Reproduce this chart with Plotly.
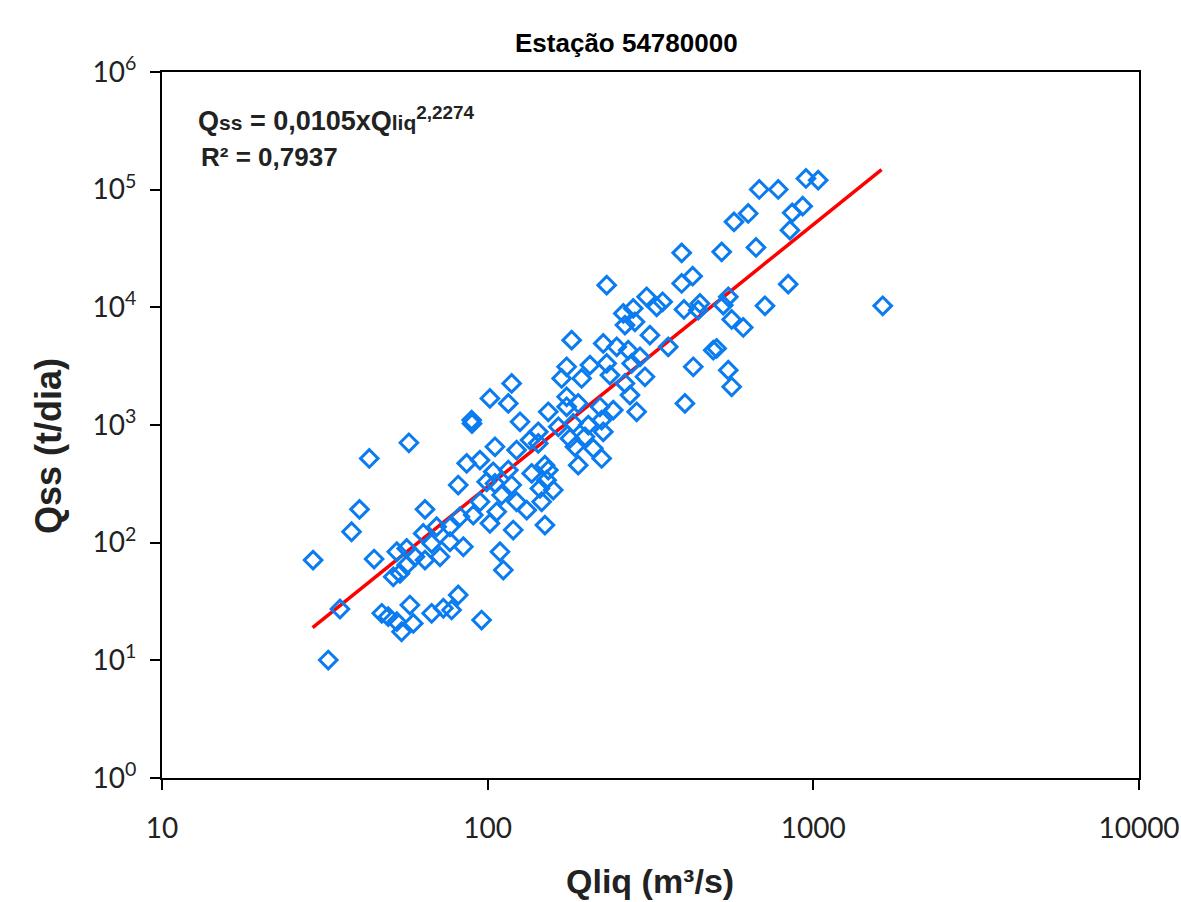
import plotly.graph_objects as go

# Observed pairs (Qliq in m3/s, Qss in t/dia)
qliq = [29.1, 32.4, 35.2, 38.2, 40.4, 43.3, 44.8, 47.3, 49.5, 51.3,
        52.6, 52.6, 53.8, 54.4, 56.4, 56.4, 57.3, 57.7, 59.1, 59.8,
        63.4, 64.2, 64.2, 67.3, 67.3, 69.7, 71.4, 73.1, 76.6, 76.6,
        77.5, 81.2, 81.2, 82.2, 84.2, 86.2, 90.3, 94.7, 94.7, 95.8,
        89.3, 89.5,
        99.3, 101.6, 101.6, 104, 105.3, 105.3, 106.6, 109.1, 110.4, 111.7,
        115.7, 115.7, 118.5, 118.5, 119.8, 122.7, 122.7,
        125.7, 131.8, 134.9, 136.5, 143, 143, 144.7, 146.5, 149.9, 149.9,
        151.7, 153.5, 153.5, 159, 164.8, 168.7, 174.8, 174.8, 178.9, 181.1,
        183.2, 185.4,
        189.7, 189.7, 194.3, 199, 203.7, 206.1, 211,
        223.9, 221.2, 226.4, 223.9, 226.4, 232, 232, 237.4,
        243, 249, 264, 270.2, 273.5, 276.8, 286.8, 293.6, 304.1, 315, 358.5, 174.8,
        260.9, 264, 279.9, 283.3, 307.7, 330.3, 344.5, 394.2, 394.2, 426,
        400.6, 443.2, 448.6, 492.8, 504.7, 427.9, 548.1, 561.4, 403.4, 523.1,
        529.1, 548.1, 561.4, 609.2, 570.6, 631, 666.6, 682.3, 780.3, 710.3,
        837.3, 847.7, 861.4, 927.4, 949.1, 1035, 1633]

qss = [71.1, 10.06, 27.3, 123.8, 191.9, 520, 72.6, 25.1, 23.5, 51.3,
       83.7, 21.3, 54.8, 17.5, 89.4, 64.5, 706, 29.5, 20.6, 75.9,
       119.9, 191.9, 71.1, 98.6, 25.1, 136.5, 75.9, 27.7, 101.8, 136.5,
       26.8, 35.9, 308.7, 166, 92.3, 472, 171.6, 503, 222.6, 22.0,
       1101, 1028,
       329, 1683, 145.9, 400, 653, 319, 183, 83.7, 254, 58.5,
       1526, 414, 2257, 308.7, 128, 612, 222.6,
       1065, 189.2, 744, 388, 875, 698, 289, 222.6, 141, 456,
       340, 414, 1295, 280, 965, 2488, 1737, 3123, 769, 5264,
       1032, 653,
       456, 1526, 2488, 794, 998, 3228, 633,
       520, 1427, 875, 1101, 4935, 3337, 15440, 2655,
       1338, 4617, 2257, 4328, 1795, 3337, 1295, 3797, 2568, 5804, 4617, 1427,
       8877, 7061, 9787, 7530, 12280, 10100, 11140, 29040, 15960, 18410,
       9598, 9467, 10790, 4328, 4474, 3123, 2926, 2112, 1526, 29610,
       10440, 12280, 7893, 6749, 53250, 62790, 32290, 100400, 100400, 10300,
       15740, 45290, 63530, 72400, 124500, 120400, 10300]

# Power-law trend line endpoints (Qss = 0,0105 x Qliq^2,2274)
trend_q = [29, 1620]
trend_qss = [19, 148000]

x_tickvals = [10, 100, 1000, 10000]
x_ticktext = ["10", "100", "1000", "10000"]
y_tickvals = [1, 10, 100, 1000, 10000, 100000, 1000000]
y_ticktext = ["10<sup>0</sup>", "10<sup>1</sup>", "10<sup>2</sup>", "10<sup>3</sup>",
              "10<sup>4</sup>", "10<sup>5</sup>", "10<sup>6</sup>"]

TICK_FONT = "Lato, sans-serif"
BOLD_FONT = "Liberation Sans, Arial, sans-serif"

fig = go.Figure()
fig.add_trace(go.Scatter(
    x=trend_q, y=trend_qss, mode="lines",
    line=dict(color="#FF0000", width=3.5),
    showlegend=False, hoverinfo="skip"))
fig.add_trace(go.Scatter(
    x=qliq, y=qss, mode="markers",
    marker=dict(symbol="diamond-open", size=13.5, color="#0A7CF0",
                line=dict(color="#0A7CF0", width=3)),
    showlegend=False))

axis_common = dict(showgrid=False, zeroline=False, showline=True, linecolor="black",
                   linewidth=2, mirror=True, ticks="outside", ticklen=10,
                   tickwidth=2, tickcolor="black", automargin=False)

fig.update_xaxes(type="log", range=[1, 4], tickvals=x_tickvals, ticktext=x_ticktext,
                 tickfont=dict(family=TICK_FONT, size=28, color="#222"),
                 ticklabelstandoff=14, **axis_common)
fig.update_yaxes(type="log", range=[0, 6], tickvals=y_tickvals, ticktext=y_ticktext,
                 tickfont=dict(family=TICK_FONT, size=28, color="#222"),
                 ticklabelstandoff=8, **axis_common)

fig.update_layout(
    width=1181, height=902,
    margin=dict(l=162, r=42, t=72, b=124, autoexpand=False),
    paper_bgcolor="white", plot_bgcolor="white",
)

fig.add_annotation(
    xref="paper", yref="paper", x=(626 - 162) / 977, y=(778 - 43) / 706,
    xanchor="center", yanchor="middle",
    text="<b>Estação 54780000</b>", showarrow=False,
    font=dict(family=BOLD_FONT, size=26, color="black"))

fig.add_annotation(
    xref="paper", yref="paper", x=(196 - 162) / 977, y=(778 - 138) / 706,
    xanchor="left", yanchor="bottom",
    text="<b>Q<span style='font-size:21px'>ss</span> = 0,0105xQ<span style='font-size:21px'>liq</span><sup>2,2274</sup></b>",
    showarrow=False, align="left",
    font=dict(family=BOLD_FONT, size=27, color="#222"))
fig.add_annotation(
    xref="paper", yref="paper", x=(199 - 162) / 977, y=(778 - 157) / 706,
    xanchor="left", yanchor="middle",
    text="<b>R² = 0,7937</b>", showarrow=False, align="left",
    font=dict(family=BOLD_FONT, size=26, color="#222"))

fig.add_annotation(
    xref="paper", yref="paper", x=(48 - 162) / 977, y=(778 - 446) / 706,
    xanchor="center", yanchor="middle", textangle=-90,
    text="<b>Qss (t/dia)</b>", showarrow=False,
    font=dict(family=BOLD_FONT, size=36, color="#222"))
fig.add_annotation(
    xref="paper", yref="paper", x=(650 - 162) / 977, y=(778 - 881) / 706,
    xanchor="center", yanchor="middle",
    text="<b>Qliq (m³/s)</b>", showarrow=False,
    font=dict(family=BOLD_FONT, size=34, color="#222"))

fig.write_html("out.html", config={"displayModeBar": False},
               post_script="document.body.style.margin='0px';document.body.style.overflow='hidden';")
